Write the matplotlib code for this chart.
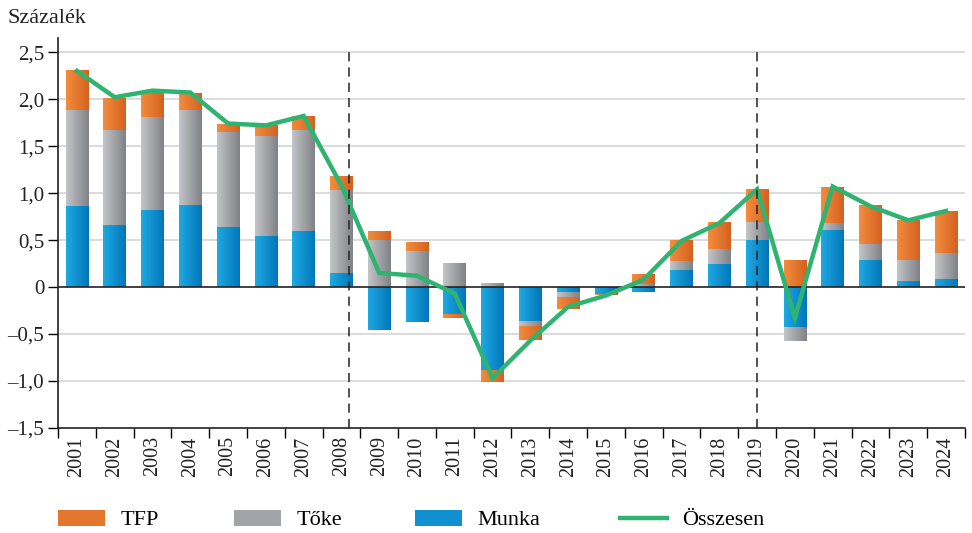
import matplotlib.pyplot as plt
import numpy as np
from matplotlib.lines import Line2D
from matplotlib.patches import Patch
from matplotlib.colors import LinearSegmentedColormap

years = [str(y) for y in range(2001, 2025)]
munka = [0.86, 0.66, 0.82, 0.87, 0.64, 0.54, 0.60, 0.15,
         -0.46, -0.37, -0.29, -0.88, -0.36, -0.05, -0.07, -0.05,
         0.18, 0.24, 0.50, -0.42, 0.61, 0.29, 0.06, 0.09]
toke = [1.02, 1.01, 0.99, 1.01, 1.01, 1.07, 1.07, 0.88,
        0.50, 0.38, 0.26, 0.04, -0.05, -0.06, 0.00, 0.03,
        0.10, 0.16, 0.19, -0.15, 0.07, 0.17, 0.23, 0.27]
tfp = [0.43, 0.34, 0.27, 0.19, 0.08, 0.11, 0.15, 0.15,
       0.10, 0.10, -0.04, -0.13, -0.15, -0.12, -0.02, 0.11,
       0.22, 0.29, 0.35, 0.29, 0.38, 0.41, 0.42, 0.45]
osszesen = [2.30, 2.02, 2.09, 2.07, 1.74, 1.72, 1.82, 1.08,
            0.15, 0.12, -0.07, -0.97, -0.57, -0.21, -0.09, 0.08,
            0.49, 0.68, 1.04, -0.33, 1.07, 0.86, 0.71, 0.81]
yticks = [-1.5, -1.0, -0.5, 0, 0.5, 1.0, 1.5, 2.0, 2.5]
ytick_labels = ["\u20131,5", "\u20131,0", "\u20130,5", "0", "0,5", "1,0", "1,5", "2,0", "2,5"]
dashed_at = [7.2, 18.0]

plt.rcParams["font.family"] = ["Liberation Serif", "DejaVu Serif"]

grads = {
    "tfp": ("#f28d3e", "#d5611f"),
    "toke": ("#c3c4c8", "#818286"),
    "munka": ("#1fa9e2", "#0076b9"),
}

fig = plt.figure(figsize=(9.72, 5.33), dpi=100)
ax = fig.add_axes([0.0597, 0.197, 0.933, 0.7317])

x = np.arange(len(years))
w = 0.6
gradient = np.linspace(0, 1, 64).reshape(1, -1)


def stack(values_list):
    pos = np.zeros(len(years))
    neg = np.zeros(len(years))
    out = []
    for vals in values_list:
        vals = np.asarray(vals)
        bottom = np.where(vals >= 0, pos, neg)
        out.append(bottom)
        pos = pos + np.where(vals >= 0, vals, 0)
        neg = neg + np.where(vals < 0, vals, 0)
    return out


series = [("munka", munka), ("toke", toke), ("tfp", tfp)]
bottoms = stack([s[1] for s in series])

for (key, vals), bot in zip(series, bottoms):
    cmap = LinearSegmentedColormap.from_list(key, grads[key])
    bars = ax.bar(x, vals, w, bottom=bot, color=grads[key][1], linewidth=0, zorder=2)
    for b in bars:
        if b.get_height() == 0:
            continue
        x0, y0 = b.get_x(), b.get_y()
        x1, y1 = x0 + b.get_width(), y0 + b.get_height()
        im = ax.imshow(gradient, extent=(x0, x1, min(y0, y1), max(y0, y1)),
                       cmap=cmap, aspect="auto", zorder=2.1, interpolation="bilinear")
        im.set_clip_path(b)

ax.plot(x, osszesen, color="#2fb370", lw=3.2, zorder=4, solid_joinstyle="miter")

for xd in dashed_at:
    ax.plot([xd, xd], [-1.5, 2.5], color="#222222", lw=1.1, ls=(0, (6, 4)), zorder=5)

ax.axhline(0, color="#222222", lw=1.2, zorder=3)
for yv in yticks:
    if yv not in (0, -1.5):
        ax.axhline(yv, color="#d9d9d9", lw=1.3, zorder=1)

ax.set_xlim(-0.5, 23.5)
ax.set_ylim(-1.5, 2.65)
ax.set_yticks(yticks)
ax.set_yticklabels(ytick_labels, fontsize=15, color="#222222")
ax.set_xticks(x)
ax.set_xticklabels(years, rotation=90, fontsize=14.5, color="#222222")
ax.set_xticks(np.arange(-0.5, 24, 1), minor=True)
ax.tick_params(axis="x", which="major", length=0, pad=6)
ax.tick_params(axis="x", which="minor", length=7, width=1, direction="out")
ax.tick_params(axis="y", length=7, width=1, direction="out", pad=3)

for s in ["top", "right"]:
    ax.spines[s].set_visible(False)
for s in ["left", "bottom"]:
    ax.spines[s].set_color("#222222")
    ax.spines[s].set_linewidth(1.2)

fig.text(0.008, 0.965, "Százalék", fontsize=16, color="#222222", va="center")

handles = [
    Patch(facecolor="#e4772e", edgecolor="none", label="TFP"),
    Patch(facecolor="#a3a4a8", edgecolor="none", label="Tőke"),
    Patch(facecolor="#1190d0", edgecolor="none", label="Munka"),
    Line2D([0], [0], color="#2fb370", lw=3.2, label="Összesen"),
]
legend_x = [58, 234, 415, 620]
for h, lx in zip(handles, legend_x):
    leg = fig.legend(handles=[h], loc="center left", bbox_to_anchor=(lx / 972, 1 - 520 / 533),
                     frameon=False, fontsize=16, handlelength=2.1, handleheight=0.75,
                     handletextpad=0.7, borderpad=0, borderaxespad=0)

fig.savefig("out.png", dpi=100)
